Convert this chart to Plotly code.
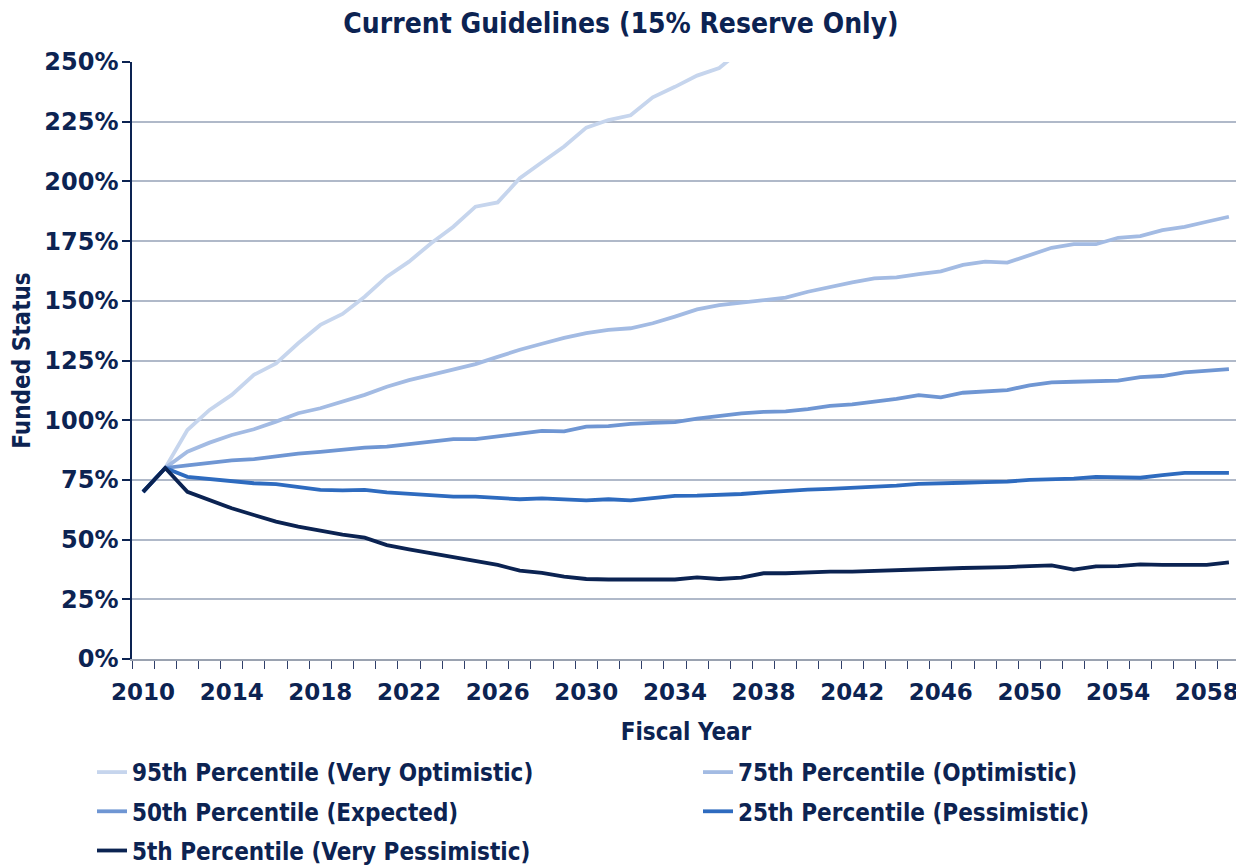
import plotly.graph_objects as go

years = list(range(2010, 2060))

p95 = [70, 80, 95.9, 104.3, 110.6, 119, 123.8, 132.2, 139.9, 144.5,
       151.7, 160.1, 166.4, 174.1, 181, 189.4, 191.2, 201.3, 208, 214.6,
       222.5, 225.7, 227.7, 235.2, 239.6, 244.3, 247.5, 255] + [None] * 22

p75 = [70, 80, 86.8, 90.6, 93.8, 96.2, 99.4, 102.9, 105, 107.8,
       110.6, 114, 116.8, 119, 121.3, 123.5, 126.5, 129.5, 132, 134.5,
       136.5, 137.8, 138.5, 140.6, 143.4, 146.4, 148.2, 149.2, 150.6, 151.3,
       153.8, 155.9, 157.7, 159.4, 159.8, 161.2, 162.3, 165, 166.4, 166,
       169.2, 172.2, 173.7, 173.7, 176.4, 177.1, 179.6, 181, 183.1, 185.2]

p50 = [70, 80, 81.1, 82.1, 83.2, 83.7, 85, 86, 86.7, 87.5,
       88.5, 88.9, 89.9, 91.2, 92.1, 92.1, 93.1, 94.2, 95.5, 95.3,
       97.3, 97.5, 98.5, 98.9, 99.2, 100.7, 101.7, 102.9, 103.5, 103.7,
       104.6, 106, 106.6, 107.6, 108.9, 110.5, 109.6, 111.5, 111.9, 112.6,
       114.6, 115.8, 116.1, 116.4, 116.6, 118, 118.5, 120, 120.7, 121.4]

p25 = [70, 80, 76.3, 75.4, 74.3, 73.6, 73.2, 71.9, 70.8, 70.6,
       70.8, 69.8, 69.2, 68.7, 68, 68, 67.3, 66.9, 67.3, 66.9,
       66.4, 66.9, 66.4, 67.4, 68.3, 68.4, 68.7, 69.1, 69.8, 70.5,
       70.9, 71.2, 71.7, 71.9, 72.6, 73.3, 73.4, 73.8, 74.1, 74.3,
       75, 75.1, 75.5, 76.3, 76.3, 75.9, 77, 77.9, 77.9, 77.9]

p5 = [70, 80, 70, 66.6, 63.1, 60.3, 57.5, 55.4, 53.6, 52.1,
      50.8, 47.7, 45.9, 44.3, 42.6, 40.8, 39.4, 37, 36.1, 34.5,
      33.5, 33.3, 33.3, 33.3, 33.3, 34.2, 33.5, 34.1, 35.9, 35.9,
      36.3, 36.6, 36.6, 36.8, 37.1, 37.5, 37.8, 38.1, 38.2, 38.5,
      38.9, 39.2, 37.4, 38.8, 38.9, 39.6, 39.4, 39.4, 39.4, 40.5]

series_names = [
    "95th Percentile (Very Optimistic)",
    "75th Percentile (Optimistic)",
    "50th Percentile (Expected)",
    "25th Percentile (Pessimistic)",
    "5th Percentile (Very Pessimistic)",
]
series_values = [p95, p75, p50, p25, p5]
series_colors = ["#C6D5ED", "#A3BBE3", "#6F96D3", "#2E6BBF", "#0B2352"]
series_legend = ["legend", "legend2", "legend", "legend2", "legend"]

x_tick_years = list(range(2010, 2060, 4))
y_ticks = list(range(0, 251, 25))

NAVY = "#0C2352"
TXT = "DejaVu Sans Condensed"
NUM = "DejaVu Sans"

W, H = 1236, 857  # page body has an 8px margin
ML, MR, MT, MB = 124, 4, 54, 206
PW, PH = W - ML - MR, H - MT - MB


def px_x(x):
    return (x - ML) / PW


fig = go.Figure()
for name, vals, col, lg in zip(series_names, series_values, series_colors, series_legend):
    fig.add_trace(go.Scatter(
        x=years, y=vals, mode="lines", name=name,
        line=dict(color=col, width=3.8), connectgaps=False,
        legend=lg, legendgroup=name,
    ))

legend_common = dict(
    orientation="v", xanchor="left", yanchor="top",
    xref="paper", yref="container",
    font=dict(family=TXT, size=24, color=NAVY, weight="bold"),
    traceorder="grouped", tracegroupgap=5, itemwidth=30,
    bgcolor="rgba(0,0,0,0)",
)

fig.update_layout(
    width=W, height=H,
    margin=dict(l=ML, r=MR, t=MT, b=MB),
    paper_bgcolor="white", plot_bgcolor="white",
    font=dict(family=TXT, color=NAVY, size=24, weight="bold"),
    title=dict(
        text="<b>Current Guidelines (15% Reserve Only)</b>",
        x=613 / W, xref="container", xanchor="center",
        y=1 - 15 / H, yref="container", yanchor="middle",
        font=dict(family=TXT, size=28, color=NAVY),
    ),
    showlegend=True,
    legend=dict(x=px_x(84), y=1 - 742 / H, **legend_common),
    legend2=dict(x=px_x(690), y=1 - 742 / H, **legend_common),
)

fig.update_xaxes(
    range=[2009.5, 2059.5], automargin=False,
    tickmode="array", tickvals=x_tick_years,
    ticktext=[str(y) for y in x_tick_years],
    ticks="", showgrid=False, zeroline=False,
    showline=True, linecolor="#9AA2B0", linewidth=2,
    tickfont=dict(family=NUM, size=23, color=NAVY, weight="bold"),
    ticklabelstandoff=11,
    minor=dict(tick0=2009.5, dtick=1, ticks="outside", ticklen=8,
               tickcolor="#31406A", tickwidth=1, showgrid=False),
    title=dict(text="<b>Fiscal Year</b>", standoff=20,
               font=dict(family=TXT, size=24, color=NAVY)),
)

fig.update_yaxes(
    range=[0, 250], automargin=False,
    tickmode="array", tickvals=y_ticks,
    ticktext=[f"{v}%" for v in y_ticks],
    ticks="outside", ticklen=8, tickcolor=NAVY, tickwidth=1.5,
    showgrid=True, gridcolor="#B0B9C9", gridwidth=1.5,
    zeroline=False,
    showline=True, linecolor=NAVY, linewidth=1.5,
    tickfont=dict(family=NUM, size=24, color=NAVY, weight="bold"),
    ticklabelstandoff=-1,
    title=dict(text="<b>Funded Status</b>", standoff=8,
               font=dict(family=TXT, size=24, color=NAVY)),
)

fig.write_html("out.html")
